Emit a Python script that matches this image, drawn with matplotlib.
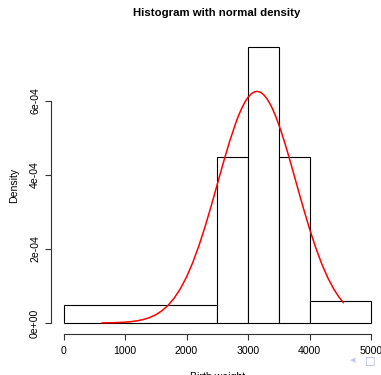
import matplotlib
matplotlib.use('Agg')
import matplotlib.pyplot as plt

plt.rcParams['font.family'] = ['Liberation Sans', 'DejaVu Sans']

# histogram bins (unequal widths) and densities
bin_edges = [0, 2500, 3000, 3500, 4000, 5000]
bin_density = [4.8e-5, 4.49e-4, 7.45e-4, 4.49e-4, 6.0e-5]

# normal density curve
curve_x = [631, 800, 900, 1000, 1100, 1200, 1300, 1400, 1500, 1600, 1700, 1800,
           1900, 2000, 2100, 2200, 2300, 2400, 2500, 2600, 2650, 2700, 2800,
           2850, 2900, 2950, 3000, 3050, 3100, 3150, 3200, 3250, 3300, 3350,
           3400, 3450, 3500, 3550, 3600, 3650, 3700, 3800, 3900, 4000, 4100,
           4200, 4300, 4400, 4475, 4550]
curve_y = [2.6e-7, 7.1e-7, 1.25e-6, 2.15e-6, 3.6e-6, 5.9e-6, 9.4e-6, 1.46e-5,
           2.22e-5, 3.29e-5, 4.76e-5, 6.72e-5, 9.25e-5, 1.241e-4, 1.626e-4,
           2.078e-4, 2.592e-4, 3.153e-4, 3.744e-4, 4.337e-4, 4.623e-4, 4.9e-4,
           5.402e-4, 5.62e-4, 5.81e-4, 5.971e-4, 6.098e-4, 6.189e-4, 6.244e-4,
           6.26e-4, 6.237e-4, 6.177e-4, 6.08e-4, 5.947e-4, 5.782e-4, 5.587e-4,
           5.364e-4, 5.12e-4, 4.856e-4, 4.577e-4, 4.289e-4, 3.695e-4, 3.107e-4,
           2.548e-4, 2.04e-4, 1.592e-4, 1.213e-4, 9.01e-5, 7.1e-5, 5.52e-5]

x_ticks = [0, 1000, 2000, 3000, 4000, 5000]
y_ticks = [0, 2e-4, 4e-4, 6e-4]
y_tick_labels = ['0e+00', '2e-04', '4e-04', '6e-04']

W, H = 381, 375
fig = plt.figure(figsize=(W / 100, H / 100), dpi=100)
ax = fig.add_axes([51.2 / W, 41 / H, 332.1 / W, 297.7 / H])

widths = [b - a for a, b in zip(bin_edges[:-1], bin_edges[1:])]
ax.bar(bin_edges[:-1], bin_density, width=widths, align='edge',
       facecolor='white', edgecolor='black', linewidth=0.8)
ax.plot(curve_x, curve_y, color='red', linewidth=1.1)

ax.set_xlim(-200, 5200)
ax.set_ylim(-0.298e-4, 7.748e-4)

for s in ['top', 'right']:
    ax.spines[s].set_visible(False)
ax.spines['left'].set_bounds(0, 6e-4)
ax.spines['bottom'].set_bounds(0, 5000)
for s in ['left', 'bottom']:
    ax.spines[s].set_linewidth(0.8)
    ax.spines[s].set_color('#333333')

ax.set_xticks(x_ticks)
ax.set_xticklabels([str(t) for t in x_ticks])
ax.set_yticks(y_ticks)
ax.set_yticklabels(y_tick_labels, rotation=90, va='center')
ax.tick_params(axis='both', direction='out', length=4, width=0.8,
               labelsize=7.6, colors='#333333', labelcolor='black')
ax.tick_params(axis='x', pad=5)
ax.tick_params(axis='y', pad=4)

ax.set_ylabel('Density', fontsize=7.6, labelpad=8)
ax.set_xlabel('Birth weight', fontsize=7.6, labelpad=11)
fig.text(217 / W, 1 - 13 / H, 'Histogram with normal density',
         ha='center', va='center', fontsize=8.2, fontweight='bold')

fig.text(353 / W, 1 - 360 / H, '\u25c2', color='#c8c8f0', fontsize=8,
         ha='center', va='center', family='DejaVu Sans')
fig.text(370 / W, 1 - 360 / H, '\u25a1', color='#b0b0e8', fontsize=8,
         ha='center', va='center', family='DejaVu Sans')

fig.savefig('out.png', dpi=100)
